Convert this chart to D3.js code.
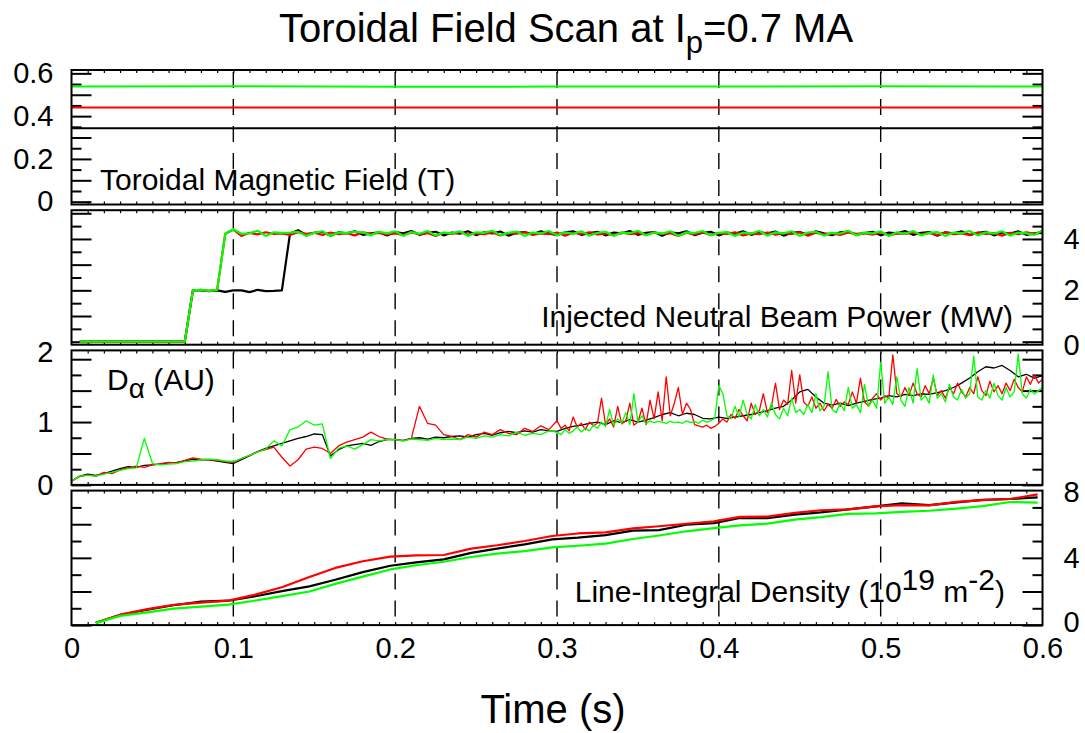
<!DOCTYPE html>
<html><head><meta charset="utf-8">
<script src="https://cdn.jsdelivr.net/npm/d3@7"></script>
<style>
body{margin:0;background:#fff}
svg{display:block}
text{font-family:"Liberation Sans",Arial,Helvetica,sans-serif;fill:#000}
</style>
</head><body>
<svg id="c" width="1085" height="733"></svg>
<script>
// ---------------- DATA ----------------
const xTickValues = [0, 0.1, 0.2, 0.3, 0.4, 0.5, 0.6];
const xTickLabels = ["0", "0.1", "0.2", "0.3", "0.4", "0.5", "0.6"];

// Panel 1: Toroidal magnetic field (T)
const tBt = [0, 0.1, 0.2, 0.3, 0.4, 0.5, 0.6];
const btBlack = [0.343, 0.343, 0.343, 0.343, 0.343, 0.343, 0.343];
const btRed   = [0.440, 0.440, 0.440, 0.440, 0.440, 0.440, 0.440];
const btGreen = [0.538, 0.540, 0.537, 0.538, 0.538, 0.540, 0.538];
const btTickLabels = [0, 0.2, 0.4, 0.6];

// Panel 2: Injected neutral beam power (MW), sampled every 5 ms from 0.005 s
const tNbi = d3.range(1, 121).map(k => +(k * 0.005).toFixed(3));
const nbiBlack = [0,0,0,0,0,0,0,0,0,0,0,0,0,0,
 2.0,2.0,1.97,2.0,1.94,2.0,2.0,1.93,2.02,1.97,1.98,2.0,
 4.2,4.34,4.16,4.24,4.28,4.12,4.26,4.22,4.30,4.16,4.22,4.26,4.14,4.27,
 4.22,4.31,4.16,4.24,4.28,4.14,4.25,4.21,4.30,4.15,
 4.26,4.22,4.29,4.13,4.24,4.27,4.18,4.30,4.22,4.15,
 4.26,4.30,4.16,4.23,4.28,4.14,4.25,4.22,4.31,4.16,
 4.24,4.27,4.13,4.26,4.22,4.30,4.15,4.24,4.28,4.14,
 4.25,4.21,4.30,4.16,4.26,4.22,4.29,4.13,4.24,4.27,
 4.16,4.30,4.22,4.15,4.26,4.29,4.16,4.23,4.28,4.14,
 4.25,4.22,4.31,4.16,4.24,4.27,4.13,4.26,4.22,4.30,
 4.15,4.24,4.28,4.14,4.25,4.21,4.30,4.16,4.22,4.24];
const nbiRed = [0,0,0,0,0,0,0,0,0,0,0,0,0,0,
 2.0,2.02,1.98,2.02,
 4.2,4.36,4.12,4.24,4.18,4.26,4.20,4.22,4.16,4.26,4.20,4.24,4.16,4.25,4.19,4.23,4.14,4.26,4.20,4.24,4.18,4.22,
 4.16,4.25,4.19,4.23,4.12,4.24,4.20,4.26,4.17,4.22,
 4.19,4.25,4.14,4.23,4.21,4.26,4.16,4.22,4.19,4.25,
 4.13,4.24,4.20,4.26,4.18,4.22,4.15,4.25,4.19,4.23,
 4.17,4.26,4.20,4.22,4.12,4.24,4.19,4.25,4.16,4.23,
 4.20,4.26,4.14,4.22,4.19,4.25,4.17,4.23,4.20,4.26,
 4.13,4.24,4.19,4.22,4.16,4.25,4.20,4.23,4.17,4.26,
 4.14,4.22,4.20,4.25,4.18,4.23,4.15,4.26,4.19,4.22,
 4.16,4.25,4.20,4.23,4.13,4.24,4.19,4.26,4.20,4.30];
const nbiGreen = [0,0,0,0,0,0,0,0,0,0,0,0,0,0,
 2.0,2.02,1.98,2.02,
 4.2,4.38,4.2,4.22,4.32,4.12,4.26,4.24,4.25,4.28,4.12,4.24,4.30,4.12,4.25,4.24,4.28,4.26,4.14,4.28,4.22,4.30,
 4.12,4.27,4.20,4.31,4.14,4.25,4.22,4.30,4.12,4.26,
 4.24,4.32,4.15,4.24,4.29,4.12,4.25,4.22,4.31,4.14,
 4.26,4.20,4.30,4.13,4.24,4.28,4.12,4.25,4.22,4.32,
 4.14,4.25,4.21,4.30,4.12,4.26,4.23,4.31,4.14,4.24,
 4.27,4.12,4.25,4.21,4.31,4.13,4.26,4.22,4.30,4.12,
 4.25,4.28,4.13,4.24,4.21,4.32,4.14,4.25,4.22,4.30,
 4.12,4.26,4.20,4.31,4.14,4.24,4.27,4.12,4.25,4.22,
 4.31,4.14,4.26,4.21,4.30,4.13,4.25,4.22,4.16,4.34];
const nbiTickLabels = [0, 2, 4];

// Panel 3: D-alpha (AU)
// black: every 5 ms from 0 s
const tDaBlack = d3.range(0, 121).map(k => +(k * 0.005).toFixed(4));
// red & green: every 5 ms up to 0.295 s, then every 2.5 ms to 0.6 s
const tDaRG = d3.range(0, 60).map(k => +(k * 0.005).toFixed(4))
  .concat(d3.range(0, 121).map(k => +(0.3 + k * 0.0025).toFixed(4)));
const daBlack = [
 0.06,0.14,0.17,0.15,0.18,0.22,0.26,0.29,0.28,0.31,
 0.32,0.33,0.35,0.36,0.38,0.41,0.40,0.40,0.38,0.36,
 0.34,0.40,0.46,0.53,0.58,0.62,0.66,0.70,0.74,0.77,
 0.81,0.80,0.46,0.56,0.62,0.64,0.66,0.63,0.69,0.72,
 0.72,0.71,0.74,0.75,0.73,0.76,0.75,0.77,0.78,0.76,
 0.80,0.82,0.79,0.83,0.85,0.83,0.86,0.84,0.88,0.86,
 0.85,0.90,0.93,0.95,0.98,1.00,0.96,1.02,0.99,1.04,
 1.00,1.03,1.07,1.12,1.15,1.10,1.14,1.12,1.06,1.05,
 1.08,1.06,1.08,1.10,1.12,1.15,1.18,1.22,1.25,1.35,
 1.48,1.52,1.40,1.30,1.27,1.30,1.26,1.30,1.33,1.36,
 1.38,1.42,1.40,1.44,1.42,1.45,1.44,1.47,1.50,1.55,
 1.62,1.70,1.80,1.88,1.86,1.90,1.82,1.72,1.76,1.70,1.74];
const daRed = [
 0.06,0.13,0.16,0.14,0.20,0.18,0.24,0.27,0.30,0.28,
 0.32,0.34,0.36,0.35,0.39,0.43,0.41,0.40,0.39,0.37,
 0.36,0.42,0.47,0.53,0.56,0.60,0.44,0.30,0.40,0.57,
 0.60,0.58,0.50,0.62,0.68,0.72,0.76,0.84,0.77,0.73,
 0.72,0.70,0.74,1.25,0.98,0.95,0.80,0.77,0.72,0.80,
 0.76,0.84,0.80,0.88,0.82,0.80,0.90,0.85,0.94,0.88,
 1.02,0.90,0.95,0.86,1.08,0.92,0.98,0.88,1.00,0.94,
 0.98,1.38,0.96,1.05,0.92,1.25,0.97,1.02,1.30,0.95,
 1.00,1.22,0.96,1.35,1.05,1.48,1.02,1.72,1.10,1.30,
 1.55,1.12,1.30,1.20,0.96,0.94,0.92,0.95,0.90,0.93,
 0.98,1.05,1.00,1.12,1.06,1.20,1.10,1.02,1.30,1.12,
 1.18,1.45,1.15,1.25,1.62,1.20,1.35,1.28,1.82,1.30,
 1.75,1.32,1.25,1.40,1.22,1.30,1.18,1.28,1.22,1.36,
 1.25,1.32,1.28,1.48,1.30,1.70,1.32,1.26,1.38,1.45,
 1.35,1.42,1.38,2.07,1.45,1.40,1.55,1.42,1.62,1.45,
 1.40,1.58,1.45,1.70,1.42,1.50,1.38,1.55,1.45,1.62,
 1.48,1.40,1.55,1.45,1.72,1.50,1.42,1.65,1.48,1.58,
 1.45,1.62,1.50,1.68,1.55,1.48,1.72,1.60,1.75,1.62,
 1.68];
const daGreen = [
 0.06,0.14,0.15,0.14,0.17,0.20,0.23,0.26,0.27,0.74,
 0.34,0.32,0.33,0.34,0.37,0.38,0.40,0.41,0.40,0.38,
 0.37,0.42,0.47,0.52,0.57,0.70,0.62,0.88,0.92,1.02,
 0.95,0.97,0.42,0.58,0.62,0.57,0.64,0.72,0.70,0.72,
 0.72,0.70,0.73,0.72,0.71,0.74,0.72,0.73,0.72,0.76,
 0.74,0.78,0.76,0.80,0.78,0.84,0.79,0.82,0.80,0.86,
 0.84,0.80,0.88,0.82,0.86,0.92,0.84,0.90,0.86,0.95,
 0.90,1.00,0.93,1.20,0.95,1.05,0.98,1.15,0.96,1.45,
 1.00,1.10,0.97,1.02,0.99,1.01,1.00,0.98,1.01,0.99,
 1.00,0.98,1.02,0.99,1.01,0.98,1.03,1.00,1.02,1.06,
 1.58,1.45,1.10,1.05,1.25,1.08,1.35,1.12,1.05,1.28,
 1.10,1.20,1.08,1.30,1.12,1.05,1.22,1.10,1.38,1.15,
 1.20,1.12,1.28,1.15,1.45,1.18,1.25,1.80,1.20,1.15,
 1.30,1.18,1.55,1.22,1.28,1.15,1.60,1.25,1.35,1.22,
 1.95,1.30,1.40,1.28,1.72,1.35,1.25,1.55,1.30,1.85,
 1.35,1.42,1.30,1.75,1.38,1.45,1.32,1.60,1.40,1.35,
 1.52,1.38,1.45,2.05,1.40,1.35,1.50,1.38,1.62,1.42,
 1.35,1.55,1.40,1.48,2.08,1.45,1.38,1.52,1.45,1.50,
 1.55];
const daTickLabels = [0, 1, 2];

// Panel 4: line-integral density (1e19 m^-2)
const tNe = [0.015,0.03,0.047,0.063,0.08,0.097,0.113,0.13,0.147,0.163,0.18,0.197,0.213,0.23,0.247,0.263,0.28,0.297,
 0.313,0.33,0.347,0.363,0.38,0.397,0.413,0.43,0.447,0.463,0.48,0.497,0.513,0.53,0.547,0.563,0.58,0.597];
const neBlack = [0.14,0.60,0.92,1.18,1.40,1.45,1.70,2.02,2.30,2.70,3.15,3.53,3.73,3.91,4.30,4.55,4.80,5.10,
 5.20,5.35,5.62,5.65,5.97,6.07,6.38,6.36,6.57,6.70,6.88,7.06,7.24,7.14,7.30,7.45,7.50,7.60];
const neRed = [0.14,0.62,0.95,1.20,1.34,1.46,1.80,2.25,2.86,3.40,3.80,4.07,4.15,4.17,4.55,4.75,5.00,5.30,
 5.45,5.52,5.75,5.88,6.03,6.17,6.44,6.45,6.68,6.83,6.88,7.06,7.14,7.12,7.33,7.43,7.50,7.78];
const neGreen = [0.12,0.55,0.76,0.98,1.10,1.22,1.45,1.72,2.00,2.45,2.88,3.31,3.56,3.77,4.05,4.25,4.40,4.62,
 4.72,4.85,5.12,5.33,5.58,5.77,5.93,6.04,6.27,6.42,6.62,6.65,6.74,6.80,6.93,7.08,7.32,7.28];
const neTickLabels = [0, 4, 8];

// ---------------- CHART ----------------
const FONT = '"Liberation Sans",Arial,Helvetica,sans-serif';
const svg = d3.select('#c');
const defs = svg.append('defs');
const x = d3.scaleLinear().domain([0, 0.6]).range([71.5, 1042.5]);
const COLORS = {black: '#000000', red: '#ff0000', green: '#00ff00'};

const panels = [
  {domain: [-0.0131, 0.6157], minor: 0.05, major: 0.1, tmax: 0.6, side: 'left', labels: btTickLabels, lw: 2,
   labelShift: {}, series: [[tBt, btBlack, 'black'], [tBt, btRed, 'red'], [tBt, btGreen, 'green']]},
  {domain: [-0.117, 5.12], minor: 0.5, major: 1, tmax: 5, side: 'right', labels: nbiTickLabels, lw: 2.2,
   labelShift: {0: 4}, series: [[tNbi, nbiBlack, 'black'], [tNbi, nbiRed, 'red'], [tNbi, nbiGreen, 'green']]},
  {domain: [0, 2.14], minor: 0.25, major: 0.5, tmax: 2, side: 'left', labels: daTickLabels, lw: 1.3,
   labelShift: {2: -7}, series: [[tDaBlack, daBlack, 'black'], [tDaRG, daRed, 'red'], [tDaRG, daGreen, 'green']]},
  {domain: [0, 8], minor: 1, major: 2, tmax: 7, side: 'right', labels: neTickLabels, lw: 2.2,
   labelShift: {0: -3, 8: 2}, series: [[tNe, neBlack, 'black'], [tNe, neRed, 'red'], [tNe, neGreen, 'green']]}
];

const x0 = x(0), x1 = x(0.6);
panels.forEach((p, i) => {
  const top = 70 + i * 140.2, bot = top + 134.5;
  const y = d3.scaleLinear().domain(p.domain).range([bot, top]);
  const g = svg.append('g');
  const cid = 'clip' + i;
  defs.append('clipPath').attr('id', cid).append('rect')
    .attr('x', x0).attr('y', top).attr('width', x1 - x0).attr('height', bot - top);

  // dashed verticals
  g.selectAll('line.grid').data([0.1, 0.2, 0.3, 0.4, 0.5]).join('line')
    .attr('x1', d => x(d)).attr('x2', d => x(d)).attr('y1', top + 2).attr('y2', bot)
    .attr('stroke', '#000').attr('stroke-width', 1.4).attr('stroke-dasharray', '16,11');

  // x minor ticks on top and bottom edges
  const xMinor = d3.range(1, 60).map(k => k / 100);
  g.append('g').attr('transform', `translate(0,${bot})`)
    .call(d3.axisBottom(x).tickValues(xMinor).tickSize(-3).tickFormat(''))
    .call(a => a.select('.domain').remove())
    .selectAll('line').attr('stroke-width', 1.2);
  g.append('g').attr('transform', `translate(0,${top})`)
    .call(d3.axisTop(x).tickValues(xMinor).tickSize(-3).tickFormat(''))
    .call(a => a.select('.domain').remove())
    .selectAll('line').attr('stroke-width', 1.2);

  // y ticks both sides
  const vals = d3.range(0, Math.round(p.tmax / p.minor) + 1).map(k => +(k * p.minor).toFixed(4));
  const isMajor = v => Math.abs(v / p.major - Math.round(v / p.major)) < 1e-6;
  const majors = vals.filter(isMajor), minors = vals.filter(v => !isMajor(v));
  [[d3.axisLeft, x0], [d3.axisRight, x1]].forEach(([ax, xp]) => {
    g.append('g').attr('transform', `translate(${xp},0)`)
      .call(ax(y).tickValues(majors).tickSize(-20).tickFormat(''))
      .call(a => a.select('.domain').remove())
      .selectAll('line').attr('stroke-width', 2);
    g.append('g').attr('transform', `translate(${xp},0)`)
      .call(ax(y).tickValues(minors).tickSize(-10).tickFormat(''))
      .call(a => a.select('.domain').remove())
      .selectAll('line').attr('stroke-width', 2);
  });

  // data
  const line = d3.line().x(d => x(d[0])).y(d => y(d[1]));
  p.series.forEach(([t, v, c]) => {
    g.append('path').datum(d3.zip(t, v)).attr('d', line)
      .attr('clip-path', `url(#${cid})`)
      .attr('fill', 'none').attr('stroke', COLORS[c]).attr('stroke-width', p.lw)
      .attr('stroke-linejoin', 'round');
  });

  // frame
  g.append('rect').attr('x', x0).attr('y', top).attr('width', x1 - x0).attr('height', bot - top)
    .attr('fill', 'none').attr('stroke', '#000').attr('stroke-width', 2);

  // tick labels
  const la = p.side === 'left'
    ? d3.axisLeft(y).tickValues(p.labels).tickSize(0).tickPadding(18)
    : d3.axisRight(y).tickValues(p.labels).tickSize(0).tickPadding(21);
  g.append('g').attr('transform', `translate(${p.side === 'left' ? x0 : x1},0)`)
    .call(la.tickFormat(d => d === 0 ? '0' : String(d)))
    .call(a => a.select('.domain').remove())
    .selectAll('text').attr('font-size', 29).attr('font-family', FONT).attr('fill', '#000')
    .attr('y', d => p.labelShift[d] || 0);
  p.y = y; p.top = top; p.bot = bot;
});

// x tick labels
const bottom = panels[3].bot;
svg.append('g').attr('transform', `translate(0,${bottom})`)
  .call(d3.axisBottom(x).tickValues(xTickValues).tickSize(0).tickPadding(12)
    .tickFormat((d, i) => xTickLabels[i]))
  .call(a => a.select('.domain').remove())
  .selectAll('text').attr('font-size', 29).attr('font-family', FONT).attr('fill', '#000');

// panel annotations
svg.append('text').attr('x', 100).attr('y', 190).attr('font-size', 30).text('Toroidal Magnetic Field (T)');
svg.append('text').attr('x', 1013).attr('y', 327).attr('text-anchor', 'end').attr('font-size', 30)
  .text('Injected Neutral Beam Power (MW)');
const da = svg.append('text').attr('x', 107).attr('y', 390).attr('font-size', 30);
da.append('tspan').text('D');
da.append('tspan').attr('font-size', 28).attr('dy', 8).text('α');
da.append('tspan').attr('dy', -8).text(' (AU)');
const ne = svg.append('text').attr('x', 1005).attr('y', 602).attr('text-anchor', 'end').attr('font-size', 30);
ne.append('tspan').text('Line-Integral Density (10');
ne.append('tspan').attr('dy', -12).text('19');
ne.append('tspan').attr('dy', 12).text(' m');
ne.append('tspan').attr('dy', -12).text('-2');
ne.append('tspan').attr('dy', 12).text(')');

// title
const tt = svg.append('text').attr('x', 566).attr('y', 42).attr('text-anchor', 'middle').attr('font-size', 40);
tt.append('tspan').text('Toroidal Field Scan at I');
tt.append('tspan').attr('font-size', 31).attr('dy', 11).text('p');
tt.append('tspan').attr('dy', -11).text('=0.7 MA');

svg.append('text').attr('x', 553).attr('y', 723).attr('text-anchor', 'middle').attr('font-size', 40).text('Time (s)');
</script>
</body></html>
